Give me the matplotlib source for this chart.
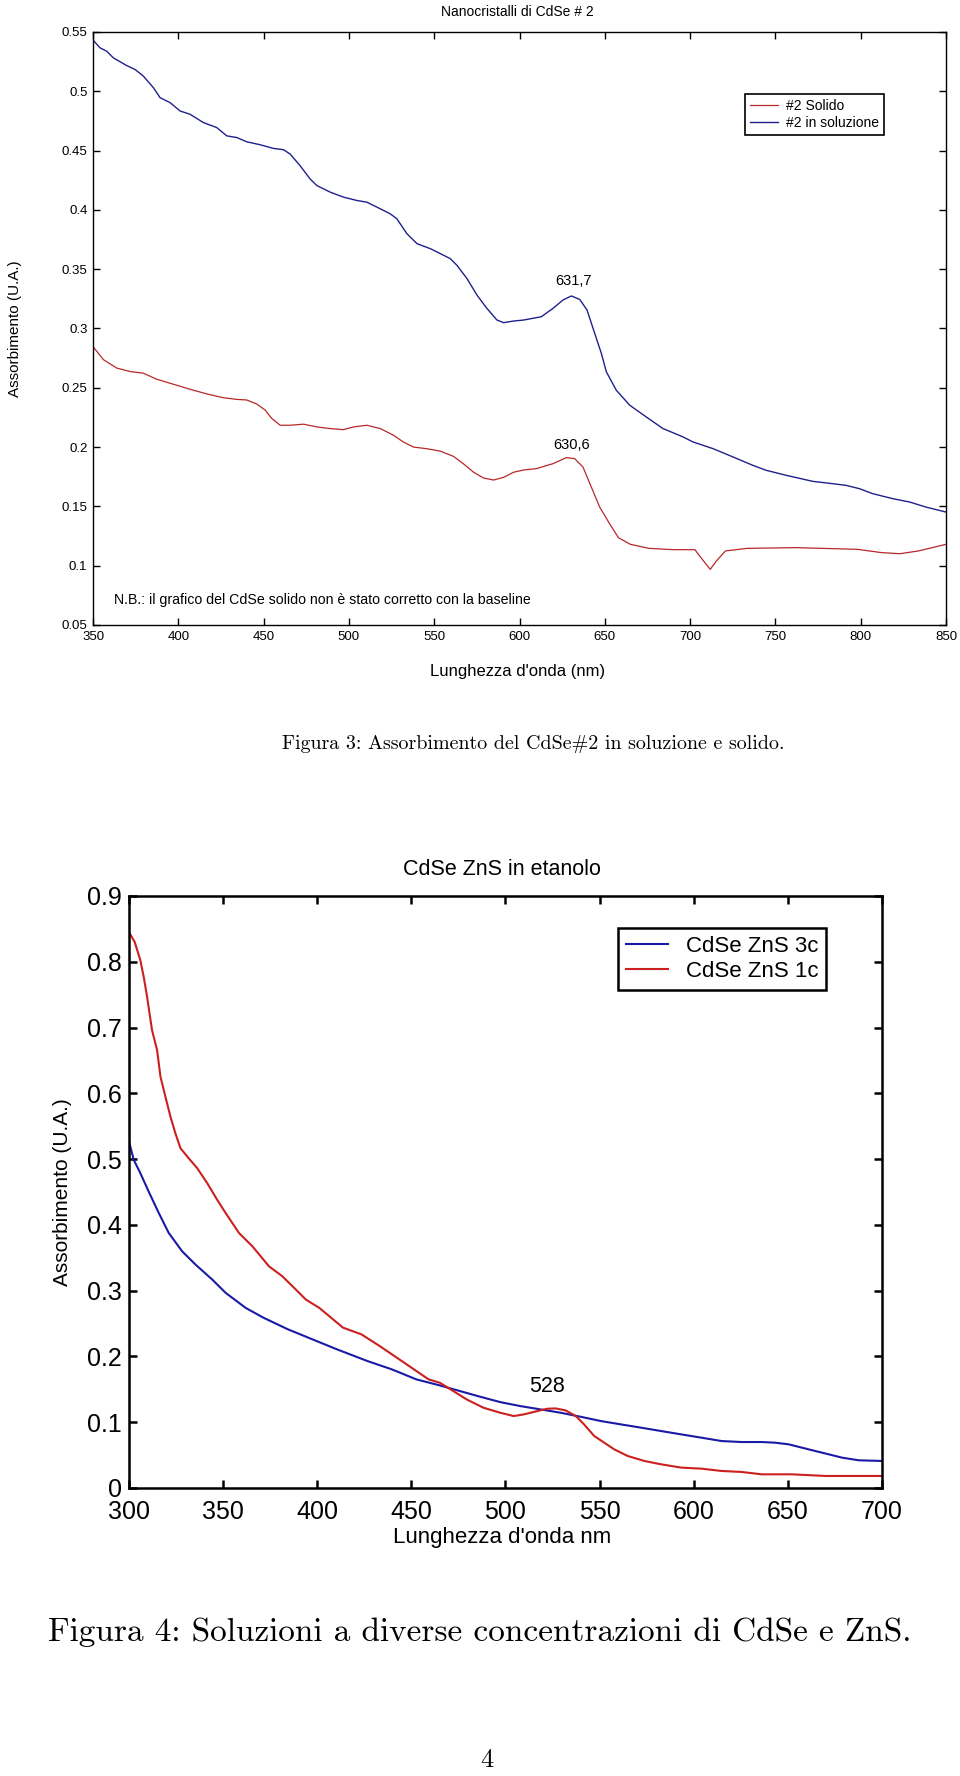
import numpy as np
import matplotlib
matplotlib.use("Agg")
import matplotlib.pyplot as plt

# --- Figura 3: Nanocristalli di CdSe #2 ---
wl_sol = [350.6, 354.1, 358, 361.9, 369.7, 374.6, 379.5, 385.4, 389.3, 395.2,
          401.0, 406.9, 414.7, 422.5, 428.4, 434.3, 440.1, 448.0, 455.8, 461.7,
          465.6, 471.4, 477.3, 481.2, 489.1, 496.9, 504.7, 510.5, 518.4, 524.2,
          528.1, 534.0, 539.9, 547.7, 553.6, 559.4, 563.3, 569.2, 575.1, 580.9,
          586.8, 590.7, 596.6, 602.4, 612.8, 619.6, 625.5, 630.4, 635.3, 639.6,
          644.1, 648.0, 650.9, 656.7, 664.6, 674.3, 684.1, 695.8, 701.7, 713.4,
          725.1, 736.8, 744.6, 756.3, 771.9, 783.7, 791.5, 799.3, 807.1, 818.8,
          828.6, 838.3, 850]
abs_sol = [0.5422, 0.5366, 0.5338, 0.5282, 0.5217, 0.5184, 0.5128, 0.503, 0.4946, 0.4904,
           0.4834, 0.4806, 0.4736, 0.4694, 0.4624, 0.461, 0.4574, 0.4549, 0.4518, 0.4507,
           0.447, 0.4372, 0.426, 0.4205, 0.4149, 0.4107, 0.4079, 0.4065, 0.4009, 0.3967,
           0.3925, 0.3799, 0.3715, 0.3673, 0.3631, 0.3589, 0.3533, 0.3421, 0.3281, 0.3169,
           0.3071, 0.3049, 0.3063, 0.3071, 0.3099, 0.3169, 0.324, 0.3274, 0.3245, 0.3155,
           0.2958, 0.2789, 0.2635, 0.248, 0.2353, 0.2254, 0.2156, 0.2086, 0.2043, 0.1987,
           0.1917, 0.1846, 0.1804, 0.1762, 0.1711, 0.1691, 0.1677, 0.1649, 0.1607, 0.1565,
           0.1537, 0.1494, 0.1452]

wl_solido = [350.6, 356.1, 363.9, 371.7, 379.5, 387.3, 397.1, 406.9, 416.7, 426.5,
             434.3, 440.1, 446.0, 450.9, 454.8, 459.7, 465.6, 473.4, 481.2, 489.0,
             496.8, 502.7, 510.5, 518.4, 526.2, 532.0, 537.9, 545.7, 553.5, 561.4,
             567.2, 573.1, 578.9, 584.8, 590.7, 596.6, 602.4, 609.9, 619.6, 627.5,
             632.3, 637.2, 642.1, 647.0, 652.8, 658, 665, 675.9, 690.2, 702.8,
             706.4, 711.8, 715.4, 720.7, 733.3, 762.0, 797.9, 812.3, 823, 833.8,
             850]
abs_solido = [0.2836, 0.2737, 0.2666, 0.2637, 0.2623, 0.2572, 0.253, 0.2487, 0.2448, 0.2416,
              0.2402, 0.2397, 0.2363, 0.2312, 0.2241, 0.2184, 0.2184, 0.2193, 0.217, 0.2156,
              0.2147, 0.217, 0.2184, 0.2156, 0.2099, 0.2042, 0.2, 0.1986, 0.1966, 0.1921,
              0.1858, 0.1788, 0.1739, 0.1722, 0.1745, 0.1788, 0.1807, 0.1818, 0.186, 0.1911,
              0.1903, 0.1832, 0.1663, 0.1494, 0.1354, 0.1236, 0.118, 0.1146, 0.1135, 0.1135,
              0.1067, 0.0969, 0.1039, 0.1124, 0.1146, 0.1152, 0.1138, 0.111, 0.1101, 0.1124,
              0.118]

top_xticks = [350, 400, 450, 500, 550, 600, 650, 700, 750, 800, 850]
top_yticks = [0.05, 0.1, 0.15, 0.2, 0.25, 0.3, 0.35, 0.4, 0.45, 0.5, 0.55]
top_ylabels = ["0.05", "0.1", "0.15", "0.2", "0.25", "0.3", "0.35", "0.4", "0.45", "0.5", "0.55"]

# --- Figura 4: CdSe ZnS in etanolo ---
wl_1c = [300.4, 303.2, 306.2, 308.0, 309.8, 312.4, 315.1, 316.9, 319.5, 322.2,
         324.8, 327.5, 331.1, 336.4, 341.7, 347.0, 351.5, 358.6, 365.7, 374.5,
         381.6, 387.0, 394.1, 401.2, 413.8, 423.6, 433.3, 446.3, 459.3, 465.3,
         472.4, 479.5, 488.4, 497.3, 504.4, 509.8, 516.9, 522.2, 526.7, 532.0,
         537.4, 541.8, 547.2, 552.5, 557.8, 564.9, 573.8, 582.7, 593.4, 604.1,
         614.8, 625.4, 636.1, 652.1, 669.9, 700]
abs_1c = [0.8439, 0.8302, 0.8024, 0.7771, 0.7467, 0.6962, 0.6658, 0.6253, 0.595, 0.5646,
          0.5393, 0.5166, 0.5039, 0.4862, 0.4635, 0.4382, 0.418, 0.3876, 0.3674, 0.337,
          0.3218, 0.3067, 0.2864, 0.2738, 0.2437, 0.2335, 0.2157, 0.1904, 0.165, 0.1598,
          0.1472, 0.1345, 0.1219, 0.1143, 0.1093, 0.1118, 0.1168, 0.1204, 0.1209, 0.1179,
          0.1093, 0.0966, 0.0789, 0.0688, 0.0587, 0.0486, 0.041, 0.0359, 0.0309, 0.0293,
          0.0258, 0.0243, 0.0207, 0.0207, 0.0182, 0.0182]

wl_3c = [300.4, 302.7, 306.2, 310.6, 316.0, 321.3, 328.4, 335.5, 344.4, 351.5,
         362.1, 371.5, 384.6, 397.6, 410.6, 426.8, 439.8, 452.8, 465.3, 476.0,
         486.7, 497.3, 508.0, 518.7, 529.4, 540.0, 550.7, 561.4, 572.1, 582.7,
         593.4, 604.1, 614.8, 625.4, 636.1, 643.2, 650.4, 657.5, 664.6, 671.7,
         678.8, 687.7, 700]
abs_3c = [0.5242, 0.4989, 0.4787, 0.4508, 0.418, 0.3876, 0.3598, 0.3396, 0.3168, 0.2966,
          0.2738, 0.2589, 0.2411, 0.2259, 0.2107, 0.1929, 0.1802, 0.165, 0.1558, 0.1472,
          0.1386, 0.1305, 0.1244, 0.1194, 0.1143, 0.1082, 0.1017, 0.0966, 0.0916, 0.0865,
          0.0814, 0.0764, 0.0713, 0.0698, 0.0698, 0.0688, 0.0663, 0.0612, 0.0561, 0.0511,
          0.046, 0.042, 0.041]

bot_xticks = [300, 350, 400, 450, 500, 550, 600, 650, 700]
bot_yticks = [0, 0.1, 0.2, 0.3, 0.4, 0.5, 0.6, 0.7, 0.8, 0.9]
bot_ylabels = ["0", "0.1", "0.2", "0.3", "0.4", "0.5", "0.6", "0.7", "0.8", "0.9"]

NARROW = ["Liberation Sans Narrow", "Liberation Sans", "DejaVu Sans"]
WIDE = ["Liberation Sans", "DejaVu Sans"]
SERIF = ["cmr10", "DejaVu Serif"]

BLUE1, RED1 = "#20208c", "#b82828"
BLUE2, RED2 = "#1a1aa6", "#cc1f1f"


def matlab_axes(ax, size, width, length, xpad, ypad):
    # MATLAB-like box: ticks inward on all four sides
    for s in ax.spines.values():
        s.set_linewidth(width)
    ax.tick_params(direction="in", top=True, right=True, length=length,
                   width=width, labelsize=size)
    ax.tick_params(axis="x", pad=xpad)
    ax.tick_params(axis="y", pad=ypad)
    for lab in ax.get_xticklabels() + ax.get_yticklabels():
        lab.set_family(NARROW)


fig = plt.figure(figsize=(9.6, 17.76), dpi=100)

# ---------------- top chart ----------------
ax1 = fig.add_axes([0.0969, 0.6481, 0.8885, 0.3339])
ax1.plot(wl_solido, abs_solido, color=RED1, lw=0.9, label="#2 Solido")
ax1.plot(wl_sol, abs_sol, color=BLUE1, lw=1.0, label="#2 in soluzione")
ax1.set_xlim(350, 850)
ax1.set_ylim(0.05, 0.55)
ax1.set_xticks(top_xticks)
ax1.set_yticks(top_yticks)
ax1.set_yticklabels(top_ylabels)
matlab_axes(ax1, 9.5, 1.0, 5, 4, 4)
ax1.text(0.498, 1.034, "Nanocristalli di CdSe # 2", transform=ax1.transAxes,
         ha="center", va="center", fontsize=10, family=NARROW)
ax1.text(0.498, -0.079, "Lunghezza d'onda (nm)", transform=ax1.transAxes,
         ha="center", va="center", fontsize=12, family=NARROW)
ax1.text(-0.0914, 0.5, "Assorbimento (U.A.)", transform=ax1.transAxes,
         ha="center", va="center", rotation=90, fontsize=11, family=WIDE)
ax1.annotate("631,7", xy=(631.7, max(abs_sol[40:])), xytext=(0, 11),
             textcoords="offset points", ha="center", va="center",
             fontsize=10.5, family=NARROW)
ax1.annotate("630,6", xy=(630.6, max(abs_solido[35:])), xytext=(0, 9),
             textcoords="offset points", ha="center", va="center",
             fontsize=10.5, family=NARROW)
ax1.text(0.0246, 0.042, "N.B.: il grafico del CdSe solido non è stato corretto con la baseline",
         transform=ax1.transAxes, ha="left", va="center", fontsize=10.2, family=NARROW)
leg1 = ax1.legend(loc="upper left", bbox_to_anchor=(0.7644, 0.8954), borderaxespad=0,
                  fancybox=False, framealpha=1, edgecolor="black",
                  handlelength=2.0, borderpad=0.35, labelspacing=0.25, handletextpad=0.6,
                  prop={"family": NARROW, "size": 10})
leg1.get_frame().set_linewidth(1.2)

# ---------------- bottom chart ----------------
ax2 = fig.add_axes([0.134, 0.1622, 0.7848, 0.3333])
ax2.plot(wl_3c, abs_3c, color=BLUE2, lw=1.5, label="CdSe ZnS 3c")
ax2.plot(wl_1c, abs_1c, color=RED2, lw=1.5, label="CdSe ZnS 1c")
ax2.set_xlim(300, 700)
ax2.set_ylim(0, 0.9)
ax2.set_xticks(bot_xticks)
ax2.set_yticks(bot_yticks)
ax2.set_yticklabels(bot_ylabels)
matlab_axes(ax2, 18, 1.8, 6, 9, 5)
ax2.text(0.4956, 1.044, "CdSe ZnS in etanolo", transform=ax2.transAxes,
         ha="center", va="center", fontsize=15.5, family=NARROW)
ax2.text(0.4956, -0.0845, "Lunghezza d'onda nm", transform=ax2.transAxes,
         ha="center", va="center", fontsize=16, family=NARROW)
ax2.text(-0.0884, 0.5, "Assorbimento (U.A.)", transform=ax2.transAxes,
         ha="center", va="center", rotation=90, fontsize=15, family=WIDE)
ax2.annotate("528", xy=(528, max(abs_1c[35:40])), xytext=(-8, 16),
             textcoords="offset points", ha="center", va="center",
             fontsize=15.5, family=NARROW)
leg2 = ax2.legend(loc="upper left", bbox_to_anchor=(0.6496, 0.9459), borderaxespad=0,
                  fancybox=False, framealpha=1, edgecolor="black",
                  handlelength=1.9, borderpad=0.35, labelspacing=0.2,
                  prop={"family": NARROW, "size": 16})
leg2.get_frame().set_linewidth(1.8)

# ---------------- captions (LaTeX style) ----------------
fig.text(533 / 960, 1 - 744 / 1776, "Figura 3: Assorbimento del CdSe#2 in soluzione e solido.",
         ha="center", va="center", fontsize=14.4, family=SERIF)
fig.text(480 / 960, 1 - 1632 / 1776, "Figura 4: Soluzioni a diverse concentrazioni di CdSe e ZnS.",
         ha="center", va="center", fontsize=24, family=SERIF)
fig.text(487 / 960, 1 - 1760 / 1776, "4", ha="center", va="center", fontsize=19, family=SERIF)

fig.savefig("out.png", dpi=100)
